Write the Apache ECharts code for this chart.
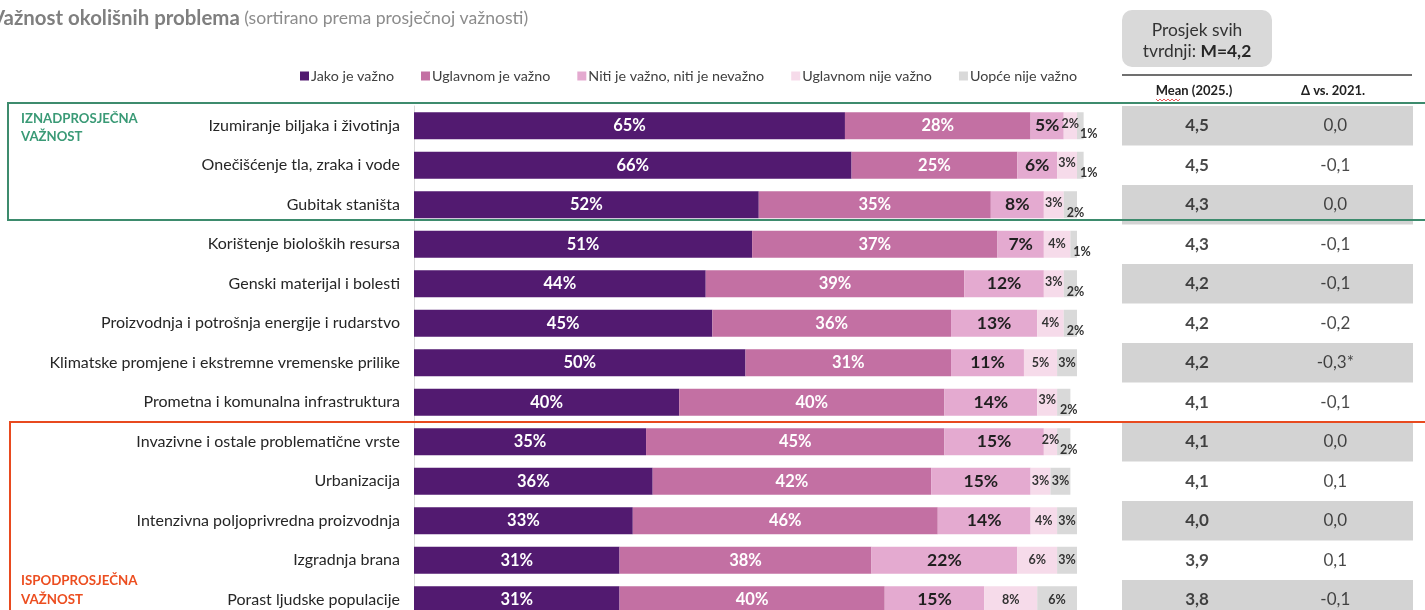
<!DOCTYPE html>
<html><head><meta charset="utf-8">
<script src="https://cdn.jsdelivr.net/npm/echarts@6/dist/echarts.min.js"></script>
<style>html,body{margin:0;padding:0;background:#fff}#c{width:1425px;height:610px}</style>
</head><body><div id="c"></div>
<script>
const categories = [
  'Izumiranje biljaka i životinja',
  'Onečišćenje tla, zraka i vode',
  'Gubitak staništa',
  'Korištenje bioloških resursa',
  'Genski materijal i bolesti',
  'Proizvodnja i potrošnja energije i rudarstvo',
  'Klimatske promjene i ekstremne vremenske prilike',
  'Prometna i komunalna infrastruktura',
  'Invazivne i ostale problematične vrste',
  'Urbanizacija',
  'Intenzivna poljoprivredna proizvodnja',
  'Izgradnja brana',
  'Porast ljudske populacije'
];
const seriesNames = ['Jako je važno','Uglavnom je važno','Niti je važno, niti je nevažno','Uglavnom nije važno','Uopće nije važno'];
const jako         = [65,66,52,51,44,45,50,40,35,36,33,31,31];
const uglavnomJe   = [28,25,35,37,39,36,31,40,45,42,46,38,40];
const niti         = [5,6,8,7,12,13,11,14,15,15,14,22,15];
const uglavnomNije = [2,3,3,4,3,4,5,3,2,3,4,6,8];
const uopce        = [1,1,2,1,2,2,3,2,2,3,3,3,6];
const mean2025     = [4.5,4.5,4.3,4.3,4.2,4.2,4.2,4.1,4.1,4.1,4.0,3.9,3.8];
const delta2021    = [0.0,-0.1,0.0,-0.1,-0.1,-0.2,-0.3,-0.1,0.0,0.1,0.0,0.1,-0.1];
const deltaSignificant = [false,false,false,false,false,false,true,false,false,false,false,false,false];
const overallMean = 4.2;

const FONT = 'Lato';
const fmt = v => v.toFixed(1).replace('.', ',');
const colors = ['#521a70','#c370a3','#e4aad0','#f6dbea','#d9d9d9'];
const valueArrays = [jako, uglavnomJe, niti, uglavnomNije, uopce];
const labelStyles = [
  {color:'#ffffff', fontSize:16.5, fontWeight:'bold'},
  {color:'#ffffff', fontSize:16.5, fontWeight:'bold'},
  {color:'#1f1f1f', fontSize:17.5, fontWeight:'bold'},
  {color:'#333333', fontSize:12.5, fontWeight:'bold'},
  {color:'#333333', fontSize:12.5, fontWeight:'bold'}
];

const barSeries = valueArrays.map((arr, s) => ({
  name: seriesNames[s], type: 'bar', stack: 'total', xAxisIndex: 0, yAxisIndex: 0,
  barWidth: 27, clip: false, silent: true,
  itemStyle: {color: colors[s]},
  label: Object.assign({show: true, position: 'inside', formatter: '{c}%', fontFamily: FONT}, labelStyles[s]),
  data: arr.map((v, i) => {
    if (s === 4 && v <= 2) return {value: v, label: {position: 'insideLeft', distance: 3, offset: [0, 8]}};
    if (s === 3 && v <= 3 && uopce[i] <= 2) return {value: v, label: {offset: [0, -2]}};
    return v;
  })
}));

const rowLayout = {top: 106, height: 513.5, outerBoundsMode: 'none', containLabel: false};

const option = {
  animation: false,
  legend: {
    data: seriesNames, left: 295, top: 64, itemWidth: 9, itemHeight: 9, itemGap: 27, icon: 'rect',
    selectedMode: false,
    textStyle: {fontFamily: FONT, fontSize: 14.3, color: '#404040', padding: [0,0,0,-3]}
  },
  grid: [
    Object.assign({left: 414, width: 663}, rowLayout),
    Object.assign({left: 1122, width: 291}, rowLayout)
  ],
  xAxis: [
    {type: 'value', gridIndex: 0, min: 0, max: 100, show: false},
    {type: 'value', gridIndex: 1, min: 0, max: 1, show: false}
  ],
  yAxis: [
    {type: 'category', gridIndex: 0, data: categories, inverse: true,
     axisLine: {show: true, lineStyle: {color: '#d9d9d9'}}, axisTick: {show: false},
     axisLabel: {fontFamily: FONT, fontSize: 16, color: '#262626', margin: 14}},
    {type: 'category', gridIndex: 1, data: categories, inverse: true, show: false}
  ],
  series: barSeries.concat([
    {type: 'bar', xAxisIndex: 1, yAxisIndex: 1, barWidth: '100%', silent: true,
     itemStyle: {color: '#d3d3d3'},
     data: mean2025.map((m, i) => i % 2 === 0 ? 1 : '-')},
    {type: 'scatter', xAxisIndex: 1, yAxisIndex: 1, symbolSize: 2, silent: true, z: 5,
     itemStyle: {color: 'rgba(0,0,0,0)'},
     label: {show: true, position: 'inside', fontFamily: FONT, fontSize: 17, fontWeight: 'bold', color: '#1a1a1a',
             formatter: p => fmt(mean2025[p.dataIndex])},
     data: mean2025.map((m, i) => [0.258, i])},
    {type: 'scatter', xAxisIndex: 1, yAxisIndex: 1, symbolSize: 2, silent: true, z: 5,
     itemStyle: {color: 'rgba(0,0,0,0)'},
     label: {show: true, position: 'inside', fontFamily: FONT, fontSize: 17, color: '#1a1a1a',
             formatter: p => fmt(delta2021[p.dataIndex]) + (deltaSignificant[p.dataIndex] ? '*' : '')},
     data: delta2021.map((d, i) => [0.733, i])}
  ]),
  graphic: [
    {type: 'text', x: -9, y: 18, z: 100, style: {
      text: '{b|Važnost okolišnih problema}{n| (sortirano prema prosječnoj važnosti)}',
      verticalAlign: 'middle',
      rich: {
        b: {fontFamily: FONT, fontSize: 20.4, fontWeight: 'bold', fill: '#7f7f7f'},
        n: {fontFamily: FONT, fontSize: 17.6, fill: '#8c8c8c'}
      }}},
    {type: 'polyline', z: 100, shape: {points: [[1430,103],[8,103],[8,220],[1430,220]]},
     style: {stroke: '#3d8b6d', lineWidth: 2, fill: null}},
    {type: 'polyline', z: 100, shape: {points: [[1430,422],[10,422],[10,615]]},
     style: {stroke: '#e84a1f', lineWidth: 2, fill: null}},
    {type: 'text', x: 21, y: 110, z: 100, style: {text: 'IZNADPROSJEČNA\nVAŽNOST', fontFamily: FONT, fontSize: 13.2,
      fontWeight: 'bold', fill: '#3a9a76', lineHeight: 18, verticalAlign: 'top'}},
    {type: 'text', x: 21, y: 571.5, z: 100, style: {text: 'ISPODPROSJEČNA\nVAŽNOST', fontFamily: FONT, fontSize: 13.3,
      fontWeight: 'bold', fill: '#ec4e20', lineHeight: 19, verticalAlign: 'top'}},
    {type: 'rect', z: 100, shape: {x: 1122, y: 10, width: 150, height: 57, r: 10}, style: {fill: '#d9d9d9'}},
    {type: 'text', x: 1197, y: 41, z: 101, style: {
      text: 'Prosjek svih\ntvrdnji: {b|M=' + fmt(overallMean) + '}',
      align: 'center', verticalAlign: 'middle', fontFamily: FONT, fontSize: 17.4, fill: '#333333', lineHeight: 21,
      rich: {b: {fontFamily: FONT, fontSize: 17.4, fontWeight: 'bold', fill: '#262626'}}}},
    {type: 'line', z: 100, shape: {x1: 1122, y1: 75, x2: 1412, y2: 75}, style: {stroke: '#404040', lineWidth: 1.5}},
    {type: 'text', x: 1194, y: 91, z: 100, style: {text: 'Mean (2025.)', align: 'center', verticalAlign: 'middle',
      fontFamily: FONT, fontSize: 13, fontWeight: 'bold', fill: '#222222'}},
    {type: 'text', x: 1333, y: 91, z: 100, style: {text: 'Δ vs. 2021.', align: 'center', verticalAlign: 'middle',
      fontFamily: FONT, fontSize: 13, fontWeight: 'bold', fill: '#222222'}},
    {type: 'polyline', z: 100, shape: {points: [[1156,99],[1158,101],[1160,99],[1162,101],[1164,99],[1166,101],[1168,99],[1170,101],[1172,99],[1174,101],[1176,99],[1178,101],[1180,99]]},
     style: {stroke: '#e03030', lineWidth: 0.8, fill: null}}
  ]
};

const chart = echarts.init(document.getElementById('c'), null, {renderer: 'canvas'});
chart.setOption(option);
</script>
</body></html>
